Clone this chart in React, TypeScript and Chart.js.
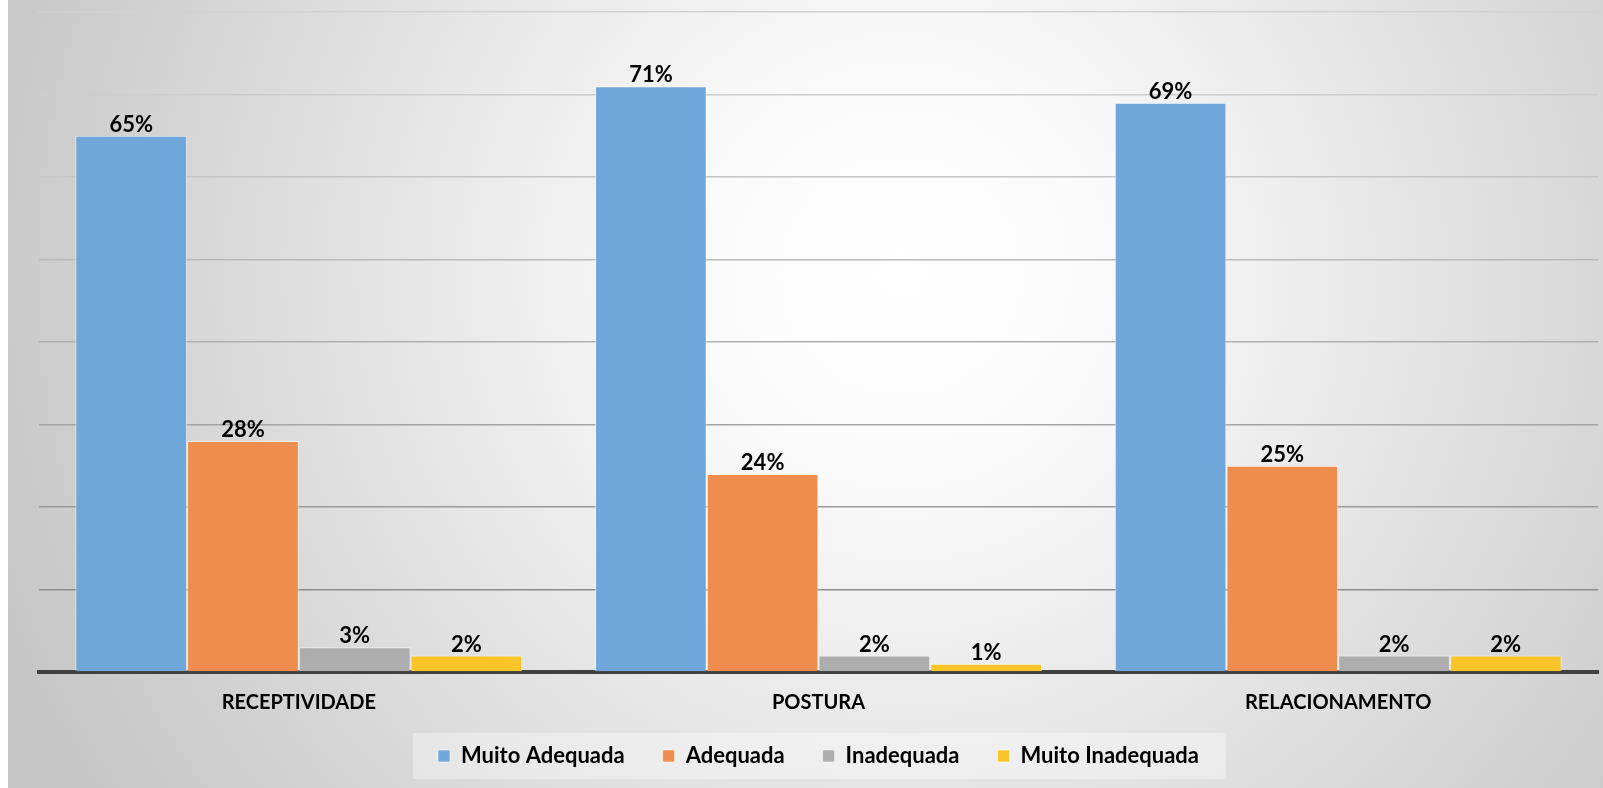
import { useEffect, useRef } from "react";
import { Chart, registerables } from "chart.js";

Chart.register(...registerables);

const categories = ["RECEPTIVIDADE", "POSTURA", "RELACIONAMENTO"];
const seriesNames = ["Muito Adequada", "Adequada", "Inadequada", "Muito Inadequada"];
const muitoAdequada = [65, 71, 69];
const adequada = [28, 24, 25];
const inadequada = [3, 2, 2];
const muitoInadequada = [2, 1, 2];
const yMin = 0;
const yMax = 80;
const yStep = 10;

const seriesValues = [muitoAdequada, adequada, inadequada, muitoInadequada];
const seriesColors = ["#70a7da", "#ee8d4e", "#adadad", "#fbc52a"];
const gridShades = ["#3f3f3f", "#8c8c8c", "#999999", "#a4a4a4", "#b0b0b0", "#b9b9b9", "#c4c4c4", "#cdcdcd", "#d2d2d2"];
const FONT = "Lato, 'Open Sans', sans-serif";

const backgroundPlugin = {
  id: "bgGradient",
  afterLayout(chart: any) {
    const lg = chart.legend;
    if (lg) {
      lg.top -= 9;
      lg.bottom -= 9;
    }
  },
  beforeDraw(chart: any) {
    const { ctx, width, height } = chart;
    ctx.save();
    const cx = width * 0.56;
    const cy = height * 0.35;
    const g = ctx.createRadialGradient(cx, cy, 0, cx, cy, width * 0.6);
    g.addColorStop(0, "#ffffff");
    g.addColorStop(0.2, "#fbfbfb");
    g.addColorStop(1, "#c6c6c6");
    ctx.fillStyle = g;
    ctx.fillRect(0, 0, width, height);
    const lg = chart.legend;
    if (lg && lg.legendHitBoxes && lg.legendHitBoxes.length) {
      const hb = lg.legendHitBoxes;
      let l = Infinity, r = -Infinity, t = Infinity, b = -Infinity;
      hb.forEach((h: any) => {
        l = Math.min(l, h.left);
        r = Math.max(r, h.left + h.width);
        t = Math.min(t, h.top);
        b = Math.max(b, h.top + h.height);
      });
      const mid = (t + b) / 2;
      ctx.fillStyle = "rgba(255,255,255,0.35)";
      ctx.fillRect(l - 25, mid - 23, r - l + 52, 46);
    }
    ctx.restore();
  },
};

const valueLabelPlugin = {
  id: "valueLabels",
  afterDatasetsDraw(chart: any) {
    const { ctx } = chart;
    ctx.save();
    ctx.font = `bold 22px ${FONT}`;
    ctx.fillStyle = "#000000";
    ctx.textAlign = "center";
    ctx.textBaseline = "alphabetic";
    chart.data.datasets.forEach((ds: any, i: number) => {
      const meta = chart.getDatasetMeta(i);
      meta.data.forEach((el: any, j: number) => {
        ctx.fillText(`${ds.data[j]}%`, el.x, el.y - 4);
      });
    });
    ctx.restore();
  },
};

export default function App() {
  const ref = useRef<HTMLCanvasElement | null>(null);

  useEffect(() => {
    if (!ref.current) return;
    const chart = new Chart(ref.current, {
      type: "bar",
      data: {
        labels: categories,
        datasets: seriesNames.map((name, i) => ({
          label: name,
          data: seriesValues[i],
          backgroundColor: seriesColors[i],
          borderColor: "rgba(255,255,255,0.55)",
          borderWidth: 1,
          categoryPercentage: 0.86,
          barPercentage: 1,
        })),
      },
      options: {
        responsive: false,
        animation: false,
        devicePixelRatio: 1,
        layout: { padding: { left: 31, right: 5, top: 12, bottom: 2 } },
        scales: {
          x: {
            grid: { display: false, drawTicks: false },
            border: { display: true, color: "#404040", width: 4 },
            ticks: {
              color: "#000000",
              font: { family: FONT, size: 20, weight: "bold" },
              padding: 19,
            },
            afterFit: (scale: any) => {
              scale.height = 44;
            },
          },
          y: {
            min: yMin,
            max: yMax,
            ticks: { display: false, stepSize: yStep },
            border: { display: false },
            grid: {
              drawTicks: false,
              lineWidth: 1.5,
              color: (c: any) => gridShades[Math.round((c.tick?.value ?? 0) / yStep)] || "#cccccc",
            },
          },
        },
        plugins: {
          legend: {
            position: "bottom",
            labels: {
              color: "#000000",
              font: { family: FONT, size: 22, weight: "bold" },
              boxWidth: 12,
              boxHeight: 12,
              padding: 38,
            },
          },
          tooltip: { enabled: false },
        },
      } as any,
      plugins: [backgroundPlugin, valueLabelPlugin],
    });
    return () => chart.destroy();
  }, []);

  return (
    <div style={{ position: "absolute", left: 8, top: 0, width: 1595, height: 788 }}>
      <canvas ref={ref} width={1595} height={788} />
    </div>
  );
}
